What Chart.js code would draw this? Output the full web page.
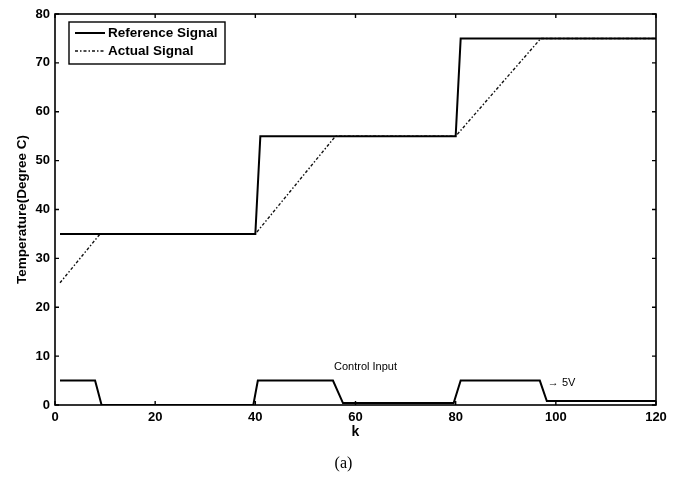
<!DOCTYPE html>
<html><head><meta charset="utf-8">
<script src="https://cdn.jsdelivr.net/npm/chart.js@4/dist/chart.umd.min.js"></script>
<style>html,body{margin:0;padding:0;background:#fff;}</style>
</head><body>
<canvas id="c" width="687" height="483"></canvas>
<script>
// ---- data ----
const refK = [1, 40, 41, 80, 81, 120];
const refTemp = [35, 35, 55, 55, 75, 75];
const actK = [1, 9, 40, 56, 80, 97, 120];
const actTemp = [25, 35, 35, 55, 55, 75, 75];
const ctrlK = [1, 8, 9.3, 39.6, 40.5, 55.5, 57.5, 79.6, 81, 96.8, 98.2, 120];
const ctrlV = [5, 5, 0, 0, 5, 5, 0.4, 0.4, 5, 5, 0.8, 0.8];
const xTicks = [0, 20, 40, 60, 80, 100, 120];
const yTicks = [0, 10, 20, 30, 40, 50, 60, 70, 80];
const seriesNames = ['Reference Signal', 'Actual Signal', 'Control Input'];
const annotations = [
  {text: 'Control Input', k: 62, v: 7.8, align: 'center'},
  {text: '\u2192 5V', k: 98.4, v: 4.6, align: 'left'}
];
const caption = '(a)';

const toXY = (xs, ys) => xs.map((x, i) => ({x: x, y: ys[i]}));
const FONT = "'Liberation Sans', Arial, sans-serif";

const framePlugin = {
  id: 'frame',
  afterDraw(chart) {
    const ctx = chart.ctx, a = chart.chartArea;
    const xs = chart.scales.x, ys = chart.scales.y;
    ctx.save();
    ctx.strokeStyle = '#000';
    ctx.lineWidth = 1.6;
    ctx.strokeRect(a.left, a.top, a.right - a.left, a.bottom - a.top);
    ctx.lineWidth = 1.4;
    const tl = 4;
    ctx.beginPath();
    xTicks.forEach(v => {
      const p = xs.getPixelForValue(v);
      ctx.moveTo(p, a.bottom); ctx.lineTo(p, a.bottom - tl);
      ctx.moveTo(p, a.top); ctx.lineTo(p, a.top + tl);
    });
    yTicks.forEach(v => {
      const p = ys.getPixelForValue(v);
      ctx.moveTo(a.left, p); ctx.lineTo(a.left + tl, p);
      ctx.moveTo(a.right, p); ctx.lineTo(a.right - tl, p);
    });
    ctx.stroke();

    // legend
    const lx = 69, ly = 22, lw = 156, lh = 42;
    ctx.fillStyle = '#fff';
    ctx.fillRect(lx, ly, lw, lh);
    ctx.lineWidth = 1.4;
    ctx.strokeRect(lx, ly, lw, lh);
    [0, 1].forEach((di, i) => {
      const ds = chart.data.datasets[di];
      const y = ly + 11 + i * 18;
      ctx.beginPath();
      ctx.strokeStyle = ds.borderColor;
      ctx.lineWidth = ds.borderWidth;
      ctx.setLineDash(ds.borderDash || []);
      ctx.moveTo(75, y); ctx.lineTo(105, y);
      ctx.stroke();
      ctx.setLineDash([]);
      ctx.fillStyle = '#000';
      ctx.font = 'bold 13.5px ' + FONT;
      ctx.textAlign = 'left';
      ctx.textBaseline = 'middle';
      ctx.fillText(ds.label, 108, y);
    });

    // annotations
    ctx.font = '11px ' + FONT;
    ctx.fillStyle = '#000';
    ctx.textBaseline = 'middle';
    annotations.forEach(an => {
      ctx.textAlign = an.align;
      ctx.fillText(an.text, xs.getPixelForValue(an.k), ys.getPixelForValue(an.v));
    });

    // caption
    ctx.font = "16px 'Liberation Serif', 'Times New Roman', serif";
    ctx.textAlign = 'center';
    ctx.fillText(caption, chart.width / 2, 464);
    ctx.restore();
  }
};

new Chart(document.getElementById('c'), {
  type: 'scatter',
  data: {
    datasets: [
      {label: seriesNames[0], data: toXY(refK, refTemp), showLine: true, borderColor: '#000', borderWidth: 2, pointRadius: 0, tension: 0},
      {label: seriesNames[1], data: toXY(actK, actTemp), showLine: true, borderColor: '#111', borderWidth: 1.4, borderDash: [3, 2, 1.5, 2], pointRadius: 0, tension: 0},
      {label: seriesNames[2], data: toXY(ctrlK, ctrlV), showLine: true, borderColor: '#000', borderWidth: 2, pointRadius: 0, tension: 0}
    ]
  },
  options: {
    responsive: false,
    animation: false,
    devicePixelRatio: 1,
    layout: {padding: {top: 14, right: 31, left: 0, bottom: 42}},
    plugins: {
      legend: {display: false},
      tooltip: {enabled: false},
      title: {display: false}
    },
    scales: {
      x: {
        type: 'linear', min: 0, max: 120,
        afterBuildTicks: s => { s.ticks = xTicks.map(v => ({value: v})); },
        afterFit: s => { s.height = 36; },
        grid: {display: false, drawTicks: false},
        border: {display: false},
        ticks: {color: '#000', font: {family: FONT, size: 13, weight: 'bold'}, padding: 5, maxRotation: 0},
        title: {display: true, text: 'k', color: '#000', font: {family: FONT, size: 14, weight: 'bold'}, padding: {top: 0, bottom: 0}}
      },
      y: {
        type: 'linear', min: 0, max: 80,
        afterBuildTicks: s => { s.ticks = yTicks.map(v => ({value: v})); },
        afterFit: s => { s.width = 55; },
        grid: {display: false, drawTicks: false},
        border: {display: false},
        ticks: {color: '#000', font: {family: FONT, size: 13, weight: 'bold'}, padding: 5},
        title: {display: true, text: 'Temperature(Degree C)', color: '#000', font: {family: FONT, size: 13.5, weight: 'bold'}, padding: {top: 14, bottom: 0}}
      }
    }
  },
  plugins: [framePlugin]
});
</script>
</body></html>
